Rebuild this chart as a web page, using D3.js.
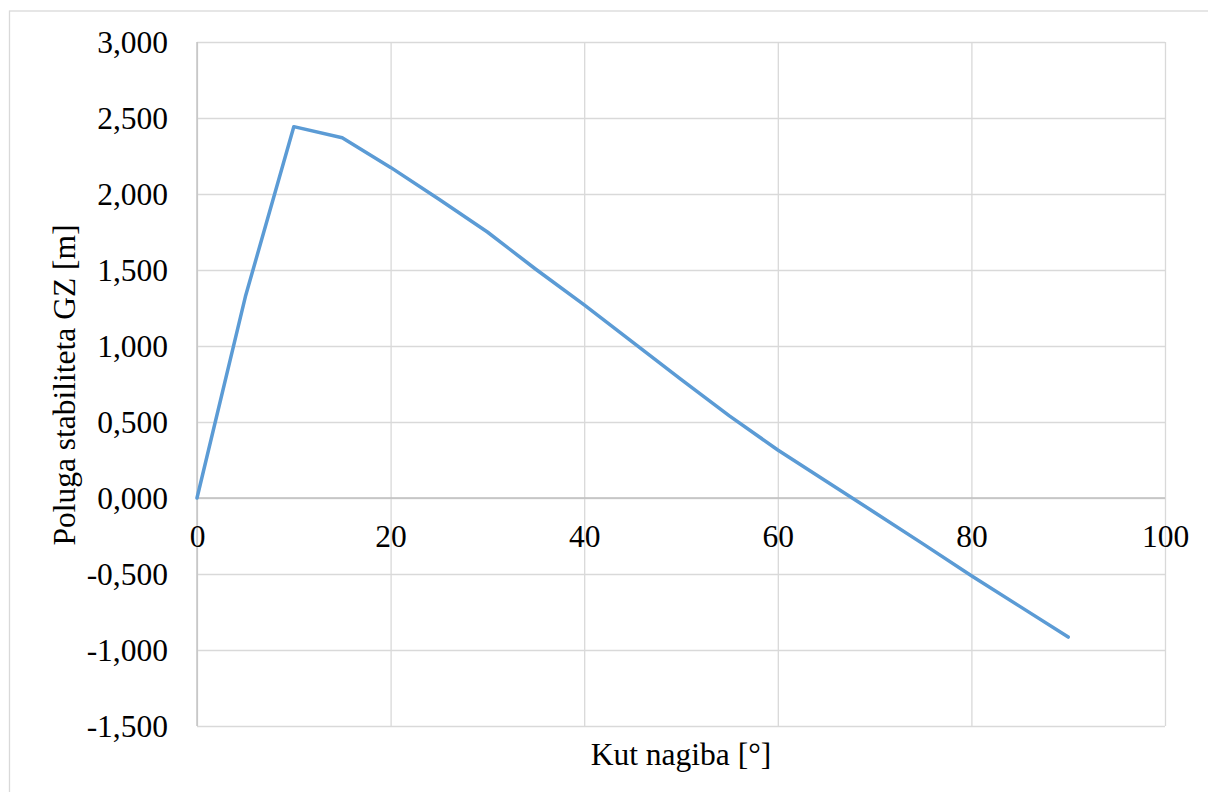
<!DOCTYPE html>
<html>
<head>
<meta charset="utf-8">
<script src="https://cdn.jsdelivr.net/npm/d3@7"></script>
<style>
  html, body { margin: 0; padding: 0; background: #fff; }
  svg { display: block; }
  svg text { font-family: "Liberation Serif", Tinos, "Times New Roman", Times, "DejaVu Serif", serif !important; fill: #000; }
</style>
</head>
<body>
<svg id="chart" width="1208" height="792"></svg>
<script>
// Data
const angles = [0, 5, 10, 15, 20, 25, 30, 35, 40, 45, 50, 55, 60, 65, 70, 75, 80, 85, 90];
const gz = [0, 1.325, 2.443, 2.370, 2.175, 1.965, 1.750, 1.505, 1.270, 1.025, 0.780, 0.540, 0.316, 0.110, -0.095, -0.302, -0.511, -0.713, -0.915];
const xTicks = [0, 20, 40, 60, 80, 100];
const yTicks = [-1.5, -1.0, -0.5, 0, 0.5, 1.0, 1.5, 2.0, 2.5, 3.0];
const xTitle = "Kut nagiba [°]";
const yTitle = "Poluga stabiliteta GZ [m]";

(function () {
const svg = d3.select("#chart");
const pLeft = 197, pRight = 1165, pTop = 42, pBottom = 726;
const fontSize = 31.5;

const x = d3.scaleLinear().domain([0, 100]).range([pLeft, pRight]);
const y = d3.scaleLinear().domain([-1.5, 3.0]).range([pBottom, pTop]);

const loc = d3.formatLocale({decimal: ",", thousands: ".", grouping: [3], currency: ["", ""], minus: "-"});
const fmt = loc.format(".3f");

// outer border
svg.append("rect").attr("x", 9.5).attr("y", 11).attr("width", 1210).attr("height", 800)
  .attr("fill", "#fff").attr("stroke", "#d9d9d9").attr("stroke-width", 1.3);

// grid lines
const gridY = d3.axisLeft(y).tickValues(yTicks).tickSize(-(pRight - pLeft)).tickFormat("");
svg.append("g").attr("transform", `translate(${pLeft},0)`).call(gridY)
  .call(g => g.select(".domain").remove())
  .call(g => g.selectAll("line").attr("stroke", "#d9d9d9").attr("stroke-width", 1.3));

const gridX = d3.axisBottom(x).tickValues(xTicks).tickSize(-(pBottom - pTop)).tickFormat("");
svg.append("g").attr("transform", `translate(0,${pBottom})`).call(gridX)
  .call(g => g.select(".domain").remove())
  .call(g => g.selectAll("line").attr("stroke", "#d9d9d9").attr("stroke-width", 1.3));

// axis lines
svg.append("line").attr("x1", pLeft).attr("x2", pRight).attr("y1", y(0)).attr("y2", y(0))
  .attr("stroke", "#bfbfbf").attr("stroke-width", 1.3);
svg.append("line").attr("x1", x(0)).attr("x2", x(0)).attr("y1", pTop).attr("y2", pBottom)
  .attr("stroke", "#bfbfbf").attr("stroke-width", 1.3);

// y tick labels
const yAxis = d3.axisLeft(y).tickValues(yTicks).tickSize(0).tickPadding(0).tickFormat(fmt);
svg.append("g").attr("transform", `translate(168,0)`).call(yAxis)
  .attr("font-family", null).attr("font-size", null)
  .call(g => g.select(".domain").remove())
  .call(g => g.selectAll("text").attr("font-size", fontSize).attr("fill", "#000").attr("dy", "0.33em"));

// x tick labels
const xAxis = d3.axisBottom(x).tickValues(xTicks).tickSize(0).tickPadding(0).tickFormat(d3.format("d"));
svg.append("g").attr("transform", `translate(0,${y(0)})`).call(xAxis)
  .attr("font-family", null).attr("font-size", null)
  .call(g => g.select(".domain").remove())
  .call(g => g.selectAll("text").attr("font-size", fontSize).attr("fill", "#000").attr("dy", null).attr("y", 49));

// line
const line = d3.line().x((d, i) => x(angles[i])).y(d => y(d));
svg.append("path").datum(gz).attr("d", line).attr("fill", "none")
  .attr("stroke", "#5b9bd5").attr("stroke-width", 3.5).attr("stroke-linejoin", "round").attr("stroke-linecap", "round");

// titles
svg.append("text").attr("x", (pLeft + pRight) / 2).attr("y", 765).attr("text-anchor", "middle")
  .attr("font-size", fontSize).text(xTitle);
svg.append("text").attr("transform", `translate(75,385) rotate(-90)`).attr("text-anchor", "middle")
  .attr("font-size", fontSize).text(yTitle);
})();
</script>
</body>
</html>
